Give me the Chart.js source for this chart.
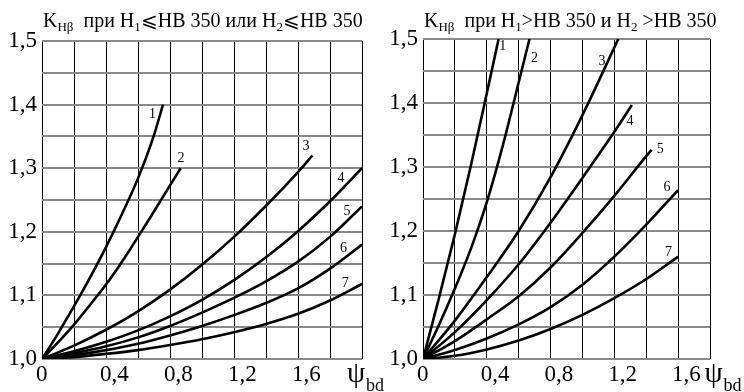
<!DOCTYPE html>
<html>
<head>
<meta charset="utf-8">
<script src="https://cdn.jsdelivr.net/npm/chart.js@4.4.1/dist/chart.umd.min.js"></script>
<style>
html, body { margin: 0; padding: 0; background: #fff; }
#wrap { position: relative; width: 744px; height: 392px; overflow: hidden; }
canvas { position: absolute; top: 0; }
</style>
</head>
<body>
<div id="wrap">
  <canvas id="left-chart" width="400" height="392" style="left:0"></canvas>
  <canvas id="right-chart" width="372" height="392" style="left:372px"></canvas>
</div>
<script>
// значения: пары [ψbd, KHβ]
const left1 = [[0, 1], [0.1, 1.04], [0.2, 1.083], [0.3, 1.128], [0.4, 1.176], [0.5, 1.228], [0.6, 1.284], [0.7, 1.352], [0.756, 1.4]];
const left2 = [[0, 1], [0.1, 1.026], [0.2, 1.054], [0.3, 1.085], [0.4, 1.117], [0.5, 1.153], [0.6, 1.192], [0.7, 1.232], [0.8, 1.273], [0.867, 1.3]];
const left3 = [[0, 1], [0.2, 1.021], [0.4, 1.046], [0.6, 1.075], [0.8, 1.109], [1.0, 1.148], [1.2, 1.192], [1.4, 1.241], [1.6, 1.294], [1.69, 1.32]];
const left4 = [[0, 1], [0.2, 1.012], [0.4, 1.027], [0.6, 1.045], [0.8, 1.067], [1.0, 1.093], [1.2, 1.124], [1.4, 1.16], [1.6, 1.201], [1.8, 1.248], [2.0, 1.3]];
const left5 = [[0, 1], [0.2, 1.009], [0.4, 1.02], [0.6, 1.034], [0.8, 1.052], [1.0, 1.073], [1.2, 1.096], [1.4, 1.122], [1.6, 1.153], [1.8, 1.192], [2.0, 1.24]];
const left6 = [[0, 1], [0.2, 1.006], [0.4, 1.014], [0.6, 1.024], [0.8, 1.037], [1.0, 1.052], [1.2, 1.069], [1.4, 1.088], [1.6, 1.111], [1.8, 1.142], [2.0, 1.18]];
const left7 = [[0, 1], [0.2, 1.003], [0.4, 1.008], [0.6, 1.014], [0.8, 1.022], [1.0, 1.031], [1.2, 1.042], [1.4, 1.055], [1.6, 1.071], [1.8, 1.092], [2.0, 1.118]];

const right1 = [[0, 1], [0.1, 1.095], [0.2, 1.195], [0.3, 1.302], [0.4, 1.415], [0.474, 1.5]];
const right2 = [[0, 1], [0.1, 1.053], [0.2, 1.11], [0.3, 1.172], [0.4, 1.245], [0.5, 1.333], [0.6, 1.432], [0.668, 1.5]];
const right3 = [[0, 1], [0.2, 1.06], [0.4, 1.128], [0.6, 1.2], [0.8, 1.284], [1.0, 1.381], [1.225, 1.5]];
const right4 = [[0, 1], [0.2, 1.042], [0.4, 1.092], [0.6, 1.148], [0.8, 1.213], [1.0, 1.283], [1.2, 1.355], [1.31, 1.397]];
const right5 = [[0, 1], [0.2, 1.028], [0.4, 1.062], [0.6, 1.098], [0.8, 1.143], [1.0, 1.197], [1.2, 1.255], [1.4, 1.317], [1.434, 1.327]];
const right6 = [[0, 1], [0.2, 1.014], [0.4, 1.032], [0.6, 1.054], [0.8, 1.081], [1.0, 1.116], [1.2, 1.16], [1.4, 1.21], [1.6, 1.264]];
const right7 = [[0, 1], [0.2, 1.005], [0.4, 1.015], [0.6, 1.029], [0.8, 1.047], [1.0, 1.069], [1.2, 1.095], [1.4, 1.125], [1.6, 1.16]];

// подписи осей
const xTickValues = [0, 0.4, 0.8, 1.2, 1.6];
const xTickLabels = ['0', '0,4', '0,8', '1,2', '1,6'];
const yTickValues = [1.0, 1.1, 1.2, 1.3, 1.4, 1.5];
const yTickLabels = ['1,0', '1,1', '1,2', '1,3', '1,4', '1,5'];

// номера кривых (где стоят цифры 1..7)
const leftNumPsi = [0.691, 0.869, 1.65, 1.869, 1.906, 1.885, 1.896];
const leftNumK = [1.384, 1.316, 1.334, 1.284, 1.232, 1.174, 1.119];
const rightNumPsi = [0.5, 0.7, 1.122, 1.299, 1.488, 1.53, 1.54];
const rightNumK = [1.488, 1.47, 1.465, 1.371, 1.327, 1.269, 1.166];

// заголовки: [текст, индекс?]
const leftTitle = [['K', 0], ['Hβ', 1], ['  при H', 0], ['1', 1], ['⩽HB 350 или H', 0], ['2', 1], ['⩽HB 350', 0]];
const rightTitle = [['K', 0], ['Hβ', 1], ['  при H', 0], ['1', 1], ['>HB 350 и H', 0], ['2', 1], [' >HB 350', 0]];

const FONT = "'Liberation Serif', 'Times New Roman', 'DejaVu Serif', serif";

const drawRich = (ctx, parts, x, y) => { // текст с нижними индексами
    parts.forEach(([t, sub]) => {
        ctx.font = sub ? `13px ${FONT}` : `20px ${FONT}`;
        ctx.fillText(t, x, sub ? y + 4 : y);
        x += ctx.measureText(t).width;
    });
};

const annotate = { // заголовок, номера кривых, обозначение оси
    id: 'annotate',
    afterDraw(chart, args, o) {
        const { ctx, chartArea, scales } = chart;
        ctx.save();
        ctx.fillStyle = '#000';
        ctx.textBaseline = 'alphabetic';
        ctx.textAlign = 'left';
        drawRich(ctx, o.title, chartArea.left + 1, 27);
        ctx.font = `14px ${FONT}`;
        ctx.textAlign = 'center';
        ctx.textBaseline = 'middle';
        o.numPsi.forEach((v, i) => {
            ctx.fillText(String(i + 1), scales.x.getPixelForValue(v), scales.y.getPixelForValue(o.numK[i]));
        });
        ctx.textAlign = 'left';
        ctx.textBaseline = 'alphabetic';
        const px = scales.x.getPixelForValue(o.axisAt);
        ctx.font = `29px ${FONT}`;
        ctx.fillText('ψ', px, 382);
        const w = ctx.measureText('ψ').width;
        ctx.font = `18px ${FONT}`;
        ctx.fillText('bd', px + w + 1, 391);
        ctx.restore();
    }
};

const pickLabel = (v, values, labels) => {
    const i = values.findIndex(t => Math.abs(t - v) < 1e-6);
    return i < 0 ? '' : labels[i];
};

const makeChart = (id, series, cfg) => {
    const ctx = document.getElementById(id);
    return new Chart(ctx, {
        type: 'line',
        data: {
            datasets: series.map(s => ({
                data: s.map(([x, y]) => ({ x, y })),
                borderColor: '#000',
                borderWidth: 2.6,
                pointRadius: 0,
                fill: false,
                tension: 0.4,
                cubicInterpolationMode: 'monotone',
            })),
        },
        options: {
            responsive: false,
            animation: false,
            devicePixelRatio: 1,
            layout: { padding: { left: 0, right: cfg.padRight, top: cfg.padTop, bottom: 0 } },
            plugins: {
                legend: { display: false },
                tooltip: { enabled: false },
                annotate: cfg.annotate,
            },
            scales: {
                x: {
                    type: 'linear',
                    min: 0,
                    max: cfg.xMax,
                    border: { display: false },
                    grid: { color: '#000', lineWidth: 1, drawTicks: false },
                    ticks: {
                        stepSize: 0.2,
                        autoSkip: false,
                        maxRotation: 0,
                        align: 'start',
                        labelOffset: -6,
                        padding: 2,
                        color: '#000',
                        font: { family: FONT, size: 23 },
                        callback: v => pickLabel(v, xTickValues, xTickLabels),
                    },
                    afterFit: s => { s.height = 33; },
                },
                y: {
                    type: 'linear',
                    min: 1.0,
                    max: 1.5,
                    border: { display: false },
                    grid: { color: '#8a8a8a', lineWidth: 2, drawTicks: false },
                    ticks: {
                        stepSize: 0.05,
                        autoSkip: false,
                        padding: 5,
                        color: '#000',
                        font: { family: FONT, size: 23 },
                        callback: v => pickLabel(v, yTickValues, yTickLabels),
                    },
                    afterFit: s => { s.width = cfg.yWidth; },
                },
            },
        },
        plugins: [annotate],
    });
};

document.addEventListener('DOMContentLoaded', () => {
    makeChart('left-chart', [left1, left2, left3, left4, left5, left6, left7], {
        xMax: 2.0, yWidth: 42, padRight: 38, padTop: 41,
        annotate: { title: leftTitle, numPsi: leftNumPsi, numK: leftNumK, axisAt: 1.906 },
    });
    makeChart('right-chart', [right1, right2, right3, right4, right5, right6, right7], {
        xMax: 1.8, yWidth: 51, padRight: 34, padTop: 39,
        annotate: { title: rightTitle, numPsi: rightNumPsi, numK: rightNumK, axisAt: 1.765 },
    });
});
</script>
</body>
</html>
